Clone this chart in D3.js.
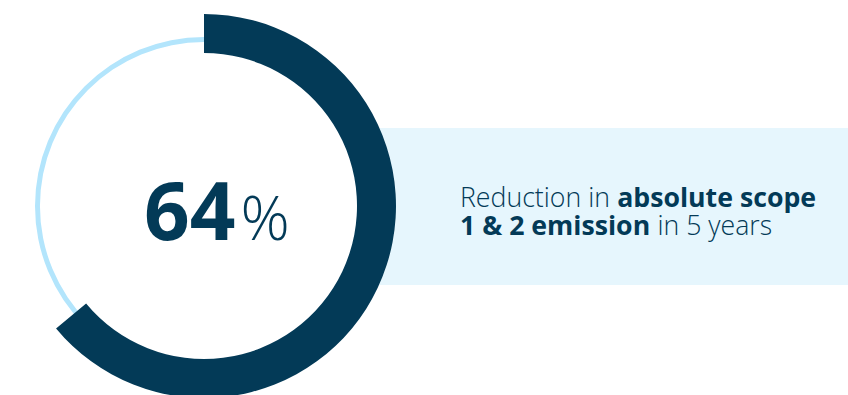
<!DOCTYPE html>
<html>
<head>
<meta charset="utf-8">
<script src="https://cdn.jsdelivr.net/npm/d3@7"></script>
<style>
  html, body { margin: 0; padding: 0; background: #ffffff; }
  svg { display: block; }
</style>
</head>
<body>
<svg id="chart" width="848" height="395"></svg>
<script>
// Headline figure and its caption
const percentValue = [64];
const percentMax = [100];
const captionLine1 = [
  { text: "Reduction in", bold: false },
  { text: "absolute scope", bold: true }
];
const captionLine2 = [
  { text: "1 & 2 emission", bold: true },
  { text: "in 5 years", bold: false }
];

const W = 848, H = 395;
const navy = "#033a57";
const lightRing = "#b3e5fc";
const panel = "#e6f6fd";
const cx = 204, cy = 206;
const font = "'Open Sans', sans-serif";
const captionSize = 26.7;

const svg = d3.select("#chart");

// Caption panel behind the ring
svg.append("rect")
  .attr("x", 340).attr("y", 128)
  .attr("width", W - 340).attr("height", 157)
  .attr("fill", panel);

const g = svg.append("g").attr("transform", `translate(${cx},${cy})`);

// Map percentage onto the full circle
const angle = d3.scaleLinear()
  .domain([0, percentMax[0]])
  .range([0, 2 * Math.PI]);

// White disc so the panel doesn't show inside the ring
g.append("circle").attr("r", 192).attr("fill", "#ffffff");

// Thin background track
const track = d3.arc().innerRadius(164).outerRadius(169);
g.append("path")
  .attr("d", track({ startAngle: 0, endAngle: angle(percentMax[0]) }))
  .attr("fill", lightRing);

// Progress arc
const progress = d3.arc().innerRadius(153).outerRadius(192);
g.append("path")
  .attr("d", progress({ startAngle: 0, endAngle: angle(percentValue[0]) }))
  .attr("fill", navy);

// Big percentage label: bold number followed by a light percent sign
const num = svg.append("text")
  .attr("x", 144).attr("y", 240)
  .attr("fill", navy)
  .attr("font-weight", 700)
  .attr("font-size", 80)
  .style("font-family", font)
  .text(percentValue[0]);
const numW = num.node().getComputedTextLength();
svg.append("text")
  .attr("x", 144 + numW + 5).attr("y", 240)
  .attr("fill", navy)
  .attr("font-weight", 300)
  .attr("font-size", 61)
  .style("font-family", font)
  .text("%");

// Caption text, one text element per run so the weights can differ
function addLine(parts, y) {
  let x = 460;
  parts.forEach((p, i) => {
    const t = svg.append("text")
      .attr("x", x).attr("y", y)
      .attr("fill", navy)
      .attr("font-size", captionSize)
      .attr("font-weight", p.bold ? 700 : 300)
      .style("font-family", font)
      .text(p.text);
    x += t.node().getComputedTextLength() + captionSize * 0.27;
  });
}
addLine(captionLine1, 207);
addLine(captionLine2, 235);
</script>
</body>
</html>
